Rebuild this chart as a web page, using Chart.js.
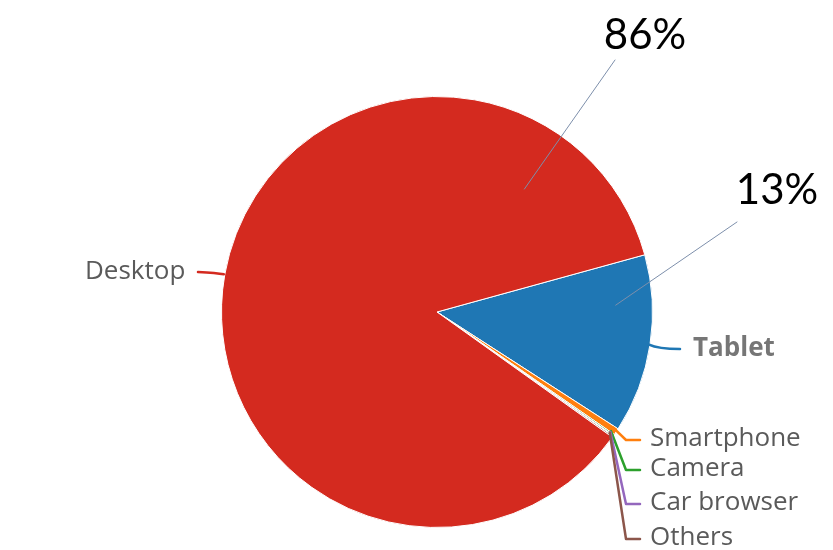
<!DOCTYPE html>
<html>
<head>
<meta charset="utf-8">
<script src="https://cdn.jsdelivr.net/npm/chart.js@4.4.1/dist/chart.umd.min.js"></script>
<style>
  html, body { margin: 0; padding: 0; background: #fff; }
  #wrap { width: 833px; height: 550px; }
</style>
</head>
<body>
<div id="wrap"><canvas id="pieChart" width="833" height="550"></canvas></div>
<script>
// data (share of page views, %)
const categories = ["Tablet", "Smartphone", "Camera", "Car browser", "Others", "Desktop"];
const shares = [13.4, 0.5, 0.1, 0.05, 0.1, 85.85];
const sliceColors = ["#1f77b4", "#ff7f0e", "#2ca02c", "#9467bd", "#8c564b", "#d42a1f"];

// big percentage callouts: category -> inner anchor (deg, fraction of radius), line end, text centre
const callouts = {
    "Desktop": { ang: -54.6, frac: 0.70, end: [615, 60], text: [645, 35] },
    "Tablet": { ang: -2.2, frac: 0.83, end: [737, 222], text: [777, 190] }
};

// category label placement
const labelPos = {
    "Desktop": { x: 85, y: 272 },
    "Tablet": { x: 693, y: 349, bold: true },
    "Smartphone": { x: 650, y: 439 },
    "Camera": { x: 650, y: 469 },
    "Car browser": { x: 650, y: 503 },
    "Others": { x: 650, y: 538 }
};

const labelPlugin = {
    id: "pieLabels",
    afterDatasetsDraw(chart) {
        const ctx = chart.ctx;
        const meta = chart.getDatasetMeta(0);
        const first = meta.data[0];
        const cx = first.x, cy = first.y, r = first.outerRadius;

        ctx.save();
        ctx.lineCap = "round";
        ctx.lineJoin = "round";

        meta.data.forEach((arc, i) => {
            const name = categories[i];
            const pos = labelPos[name];
            const mid = (arc.startAngle + arc.endAngle) / 2;
            const ex = cx + Math.cos(mid) * r;
            const ey = cy + Math.sin(mid) * r;

            ctx.strokeStyle = sliceColors[i];
            ctx.lineWidth = 2.5;
            ctx.beginPath();
            if (name === "Desktop") {
                ctx.moveTo(ex - 1, ey);
                ctx.quadraticCurveTo(ex - 8, pos.y + 1, pos.x + 113, pos.y);
            } else if (name === "Tablet") {
                ctx.moveTo(ex - 1, ey);
                ctx.quadraticCurveTo(ex + 8, pos.y, pos.x - 13, pos.y);
            } else {
                ctx.moveTo(ex - 3, ey - 4);
                ctx.lineTo(626, pos.y + 1);
                ctx.lineTo(640, pos.y + 1);
            }
            ctx.stroke();

            ctx.textBaseline = "middle";
            ctx.textAlign = "left";
            if (pos.bold) {
                ctx.font = "bold 26px 'Open Sans'";
                ctx.fillStyle = "#767676";
            } else {
                ctx.font = "26px 'Open Sans'";
                ctx.fillStyle = "#5a5a5a";
            }
            ctx.fillText(name, pos.x, pos.y);

            const co = callouts[name];
            if (co) {
                const a = co.ang * Math.PI / 180;
                const sx = cx + Math.cos(a) * r * co.frac;
                const sy = cy + Math.sin(a) * r * co.frac;
                ctx.strokeStyle = "#7d8fab";
                ctx.lineWidth = 1;
                ctx.beginPath();
                ctx.moveTo(sx, sy);
                ctx.lineTo(co.end[0], co.end[1]);
                ctx.stroke();

                ctx.font = "42px Lato";
                ctx.fillStyle = "#000000";
                ctx.textAlign = "center";
                ctx.fillText(Math.round(shares[i]) + "%", co.text[0], co.text[1]);
            }
        });
        ctx.restore();
    }
};

new Chart(document.getElementById("pieChart"), {
    type: "pie",
    data: {
        labels: categories,
        datasets: [{
            data: shares,
            backgroundColor: sliceColors,
            borderColor: "#ffffff",
            borderWidth: 1,
            hoverOffset: 0
        }]
    },
    options: {
        responsive: false,
        animation: false,
        rotation: 74.6,
        layout: { padding: { left: 221, right: 180, top: 96, bottom: 22 } },
        plugins: {
            legend: { display: false },
            tooltip: { enabled: false }
        }
    },
    plugins: [labelPlugin]
});
</script>
</body>
</html>
